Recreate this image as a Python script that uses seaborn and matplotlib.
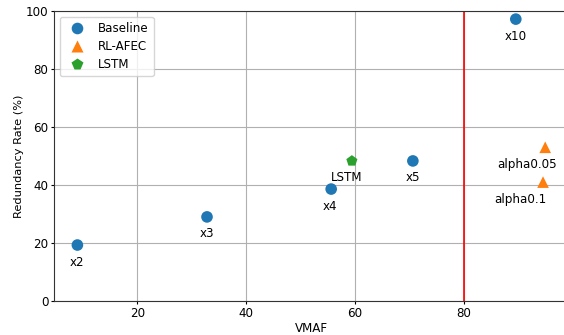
import matplotlib
matplotlib.use("Agg")
import matplotlib.pyplot as plt
import seaborn as sns
import pandas as pd

methods = ["Baseline"] * 5 + ["RL-AFEC"] * 2 + ["LSTM"]
vmaf = [9.0, 32.8, 55.6, 70.6, 89.5, 94.9, 94.5, 59.4]
redundancy = [19.3, 29.0, 38.6, 48.3, 97.2, 53.0, 41.0, 48.3]
labels = ["x2", "x3", "x4", "x5", "x10", "alpha0.05", "alpha0.1", "LSTM"]
label_offsets = [(0, -17), (0, -17), (-1, -17), (0, -17), (0, -17), (-18, -17), (-23, -17), (-5, -17)]

df = pd.DataFrame({"method": methods, "VMAF": vmaf, "Redundancy Rate (%)": redundancy})

plt.rcParams["font.size"] = 8.6
fig = plt.figure(figsize=(5.64, 3.35), dpi=100)
ax = fig.add_axes([54 / 564, 1 - 301 / 335, 514.6 / 564, 290 / 335])

palette = {"Baseline": "#1f77b4", "RL-AFEC": "#ff7f0e", "LSTM": "#2ca02c"}
markers = {"Baseline": "o", "RL-AFEC": "^", "LSTM": "p"}
sns.scatterplot(data=df, x="VMAF", y="Redundancy Rate (%)", hue="method", style="method",
                palette=palette, markers=markers, s=70, edgecolor="none", ax=ax, zorder=3)

for xv, yv, lab, off in zip(vmaf, redundancy, labels, label_offsets):
    ax.annotate(lab, (xv, yv), xytext=off, textcoords="offset pixels",
                ha="center", va="center", fontsize=8.6)

ax.axvline(80, color="red", linewidth=1.2, zorder=2)
ax.set_ylim(0, 100)
ax.grid(True, color="#b0b0b0", linewidth=0.8)
ax.set_axisbelow(True)
for sp in ax.spines.values():
    sp.set_color("#333333")
ax.tick_params(length=2.5, pad=1.5, labelsize=8.6)
ax.set_xlabel("VMAF", fontsize=8.6, labelpad=2)
ax.set_ylabel("Redundancy Rate (%)", fontsize=8.2, labelpad=1.5)
ax.legend(loc="upper left", title=None, fontsize=8.6, markerscale=1.0,
          labelspacing=0.45, borderaxespad=0.5, handletextpad=0.8)

fig.savefig("out.png", dpi=100)
